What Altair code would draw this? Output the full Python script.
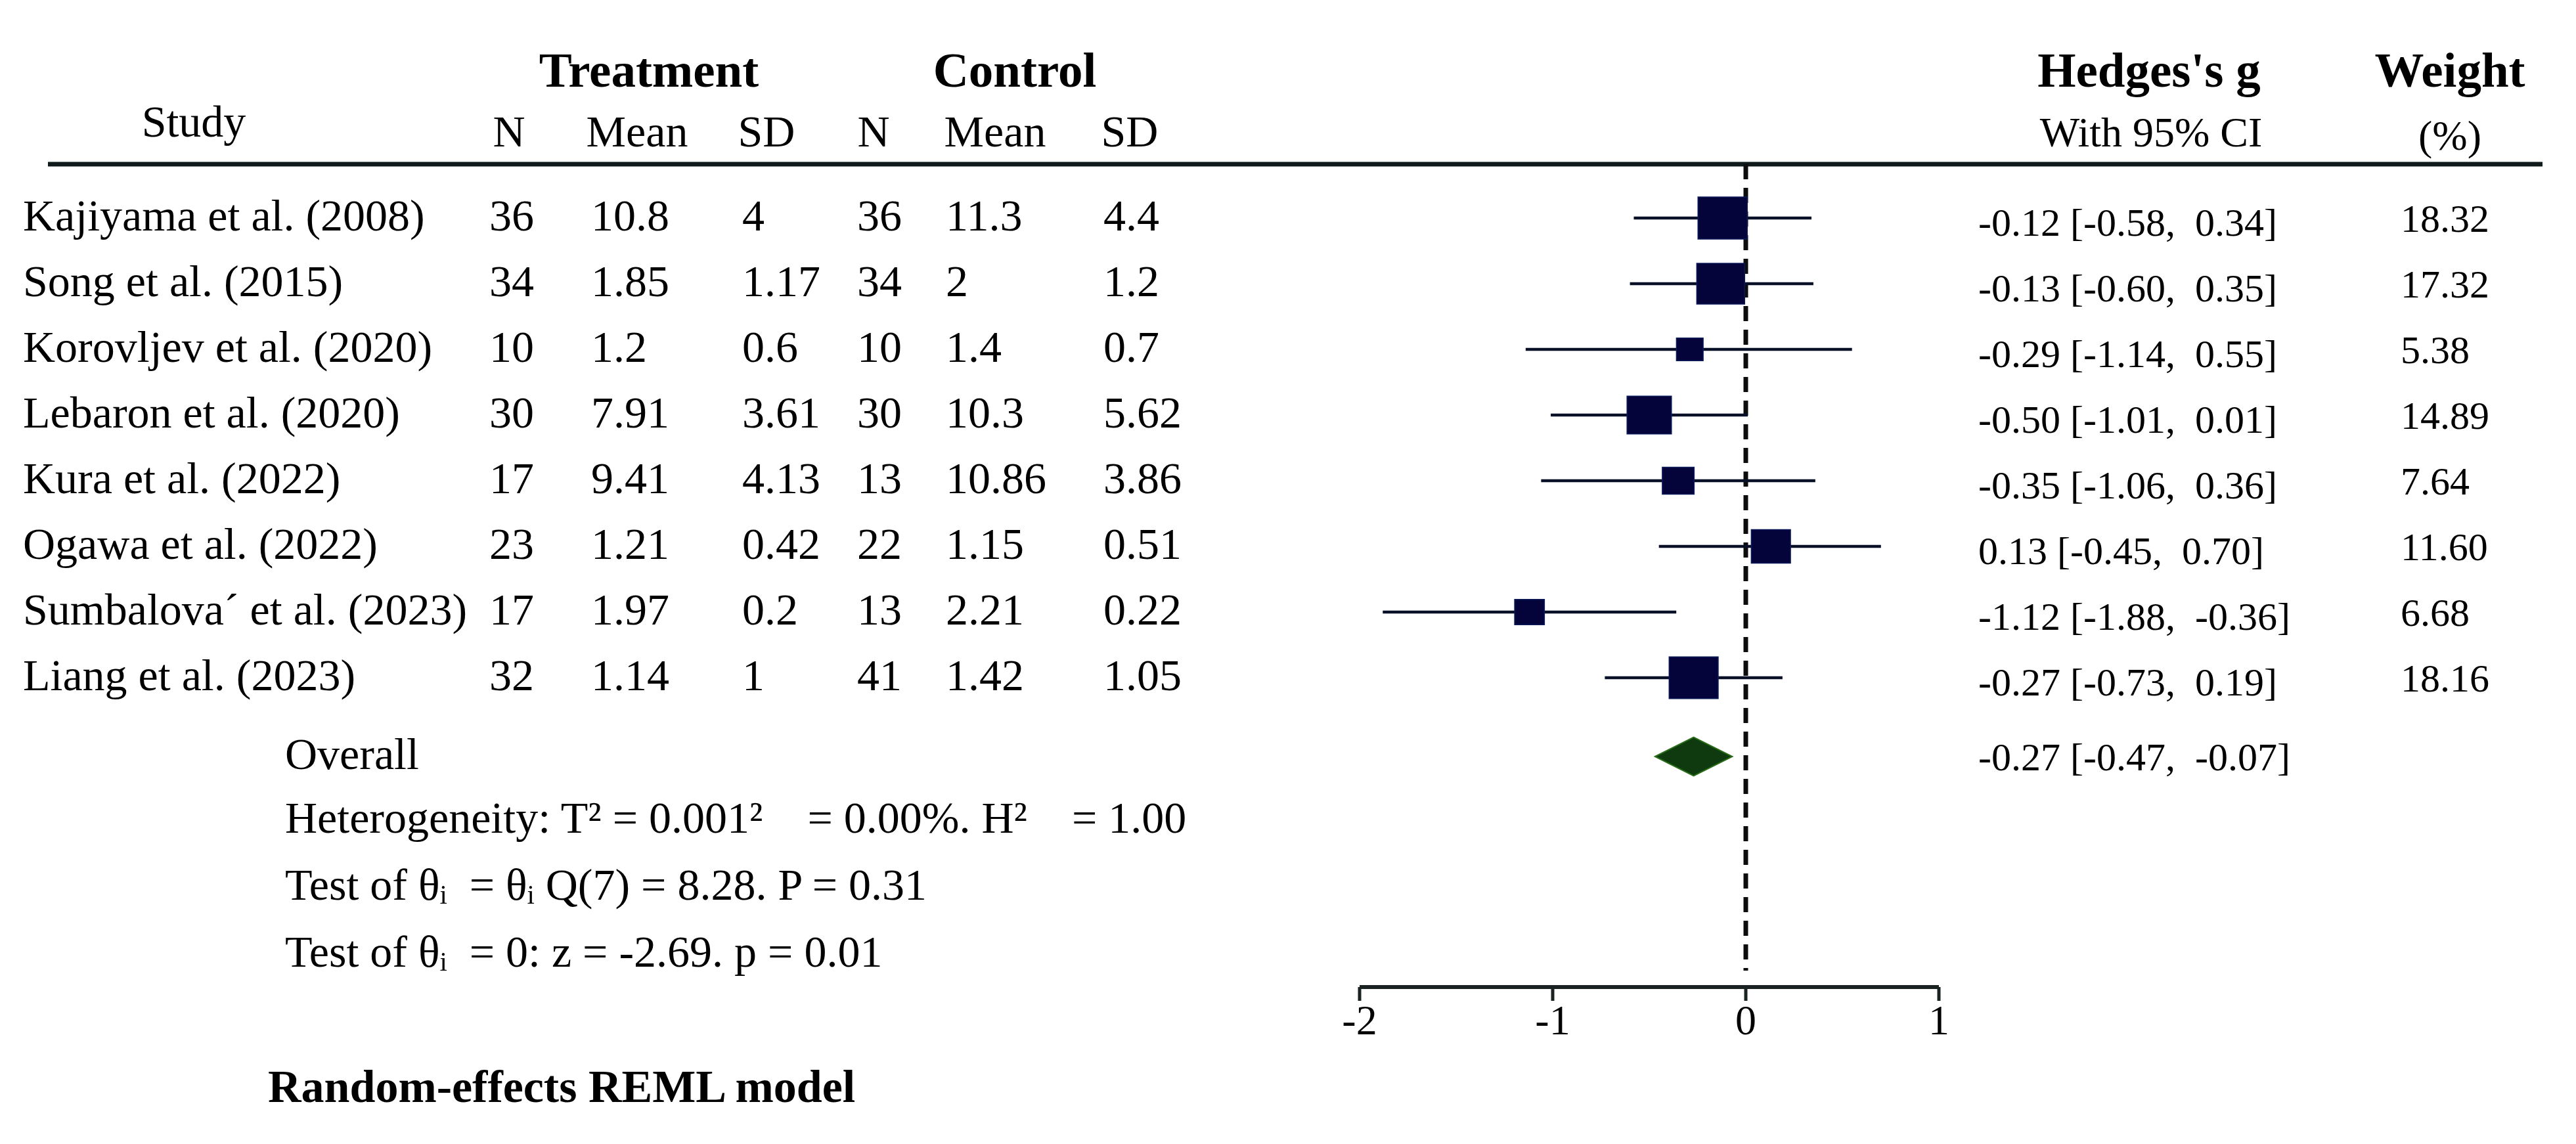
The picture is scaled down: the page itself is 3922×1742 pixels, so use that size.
import altair as alt
import pandas as pd

# ---------------- data ----------------
studies = ["Kajiyama et al. (2008)", "Song et al. (2015)", "Korovljev et al. (2020)",
           "Lebaron et al. (2020)", "Kura et al. (2022)", "Ogawa et al. (2022)",
           "Sumbalova\u00b4 et al. (2023)", "Liang et al. (2023)"]
n_treat = ["36", "34", "10", "30", "17", "23", "17", "32"]
mean_treat = ["10.8", "1.85", "1.2", "7.91", "9.41", "1.21", "1.97", "1.14"]
sd_treat = ["4", "1.17", "0.6", "3.61", "4.13", "0.42", "0.2", "1"]
n_ctrl = ["36", "34", "10", "30", "13", "22", "13", "41"]
mean_ctrl = ["11.3", "2", "1.4", "10.3", "10.86", "1.15", "2.21", "1.42"]
sd_ctrl = ["4.4", "1.2", "0.7", "5.62", "3.86", "0.51", "0.22", "1.05"]
hedges_g = [-0.12, -0.13, -0.29, -0.50, -0.35, 0.13, -1.12, -0.27]
ci_low = [-0.58, -0.60, -1.14, -1.01, -1.06, -0.45, -1.88, -0.73]
ci_high = [0.34, 0.35, 0.55, 0.01, 0.36, 0.70, -0.36, 0.19]
weights = [18.32, 17.32, 5.38, 14.89, 7.64, 11.60, 6.68, 18.16]
overall_g, overall_low, overall_high = -0.27, -0.47, -0.07
axis_ticks = [-2, -1, 0, 1]

heterogeneity = "Heterogeneity: T\u00b2 = 0.001\u00b2\u00a0\u00a0\u00a0\u00a0= 0.00%. H\u00b2\u00a0\u00a0\u00a0\u00a0= 1.00"
test1 = "Test of \u03b8\u1d62\u00a0\u00a0= \u03b8\u1d62 Q(7) = 8.28. P = 0.31"
test2 = "Test of \u03b8\u1d62\u00a0\u00a0= 0: z = -2.69. p = 0.01"
model = "Random-effects REML model"

# ---------------- layout ----------------
FONT = "Liberation Serif"
W, H = 3906, 1726
xs = alt.Scale(domain=[-9.0136, 4.2721], nice=False, zero=False)
ys = alt.Scale(domain=[-2.24, 15.02], nice=False, zero=False, reverse=True)

def fmt(v):
    return f"{v:.2f}"

df = pd.DataFrame({
    "study": studies, "nt": n_treat, "mt": mean_treat, "st": sd_treat,
    "nc": n_ctrl, "mc": mean_ctrl, "sc": sd_ctrl,
    "g": hedges_g, "lo": ci_low, "hi": ci_high, "w": weights,
})
df["row"] = range(1, len(studies) + 1)
df["ci_text"] = [f"{fmt(g)} [{fmt(l)},\u00a0\u00a0{fmt(h)}]" for g, l, h in zip(hedges_g, ci_low, ci_high)]
df["w_text"] = [fmt(w) for w in weights]


def col_text(field, xpx, dy, size=68):
    return alt.Chart(df).transform_calculate(ty=f"datum.row + {dy}").mark_text(
        align="left", baseline="alphabetic", font=FONT, fontSize=size, color="black"
    ).encode(x=alt.value(xpx), y=alt.Y("ty:Q", scale=ys, axis=None), text=f"{field}:N")


def label(txt, xpx, yrow, size=68, weight="normal", align="left"):
    return alt.Chart(df.head(1)).mark_text(
        text=txt, align=align, baseline="alphabetic", font=FONT, fontSize=size,
        fontWeight=weight, color="black"
    ).encode(x=alt.value(xpx), y=alt.YDatum(yrow, scale=ys, axis=None))


layers = []

# header
HB = 75
layers += [
    label("Treatment", 980, -1.0, HB, "bold", "center"),
    label("Control", 1537, -1.0, HB, "bold", "center"),
    label("Hedges's g", 3264, -1.0, HB, "bold", "center"),
    label("Weight", 3722, -1.0, HB, "bold", "center"),
    label("Study", 287, -0.24, 68, "normal", "center"),
    label("N", 767, -0.09, 68, "normal", "center"),
    label("Mean", 962, -0.09, 68, "normal", "center"),
    label("SD", 1159, -0.09, 68, "normal", "center"),
    label("N", 1322, -0.09, 68, "normal", "center"),
    label("Mean", 1507, -0.09, 68, "normal", "center"),
    label("SD", 1712, -0.09, 68, "normal", "center"),
    label("With 95% CI", 3267, -0.09, 64, "normal", "center"),
    label("(%)", 3722, -0.04, 64, "normal", "center"),
]

# thick header line
layers.append(
    alt.Chart(df.head(1)).mark_rule(color="#111a1a", strokeWidth=7).encode(
        x=alt.value(65), x2=alt.value(3863), y=alt.YDatum(0.18, scale=ys, axis=None))
)

# table columns
layers += [
    col_text("study", 27, 0.19),
    col_text("nt", 737, 0.19),
    col_text("mt", 892, 0.19),
    col_text("st", 1122, 0.19),
    col_text("nc", 1297, 0.19),
    col_text("mc", 1432, 0.19),
    col_text("sc", 1672, 0.19),
    col_text("ci_text", 3004, 0.27, 60),
    col_text("w_text", 3647, 0.21, 60),
]

# null line
layers.append(
    alt.Chart(pd.DataFrame({"x": [0]})).mark_rule(color="#0d0d0d", strokeWidth=7, strokeDash=[23, 13]).encode(
        x=alt.X("x:Q", scale=xs, axis=None),
        y=alt.YDatum(0.18, scale=ys, axis=None), y2=alt.Y2Datum(12.46))
)

# CI lines
layers.append(
    alt.Chart(df).mark_rule(color="#081028", strokeWidth=4.5).encode(
        x=alt.X("lo:Q", scale=xs, axis=None), x2="hi:Q", y=alt.Y("row:Q", scale=ys, axis=None))
)

# weighted squares
layers.append(
    alt.Chart(df).mark_point(
        shape="M-1.08,-0.92L1.08,-0.92L1.08,0.92L-1.08,0.92Z", filled=True, opacity=1,
        fill="#04043a", stroke="#0b1a5a", strokeWidth=1.5
    ).encode(
        x=alt.X("g:Q", scale=xs, axis=None), y=alt.Y("row:Q", scale=ys, axis=None),
        size=alt.Size("w:Q", scale=alt.Scale(type="linear", domain=[0, 20], range=[0, 263 * 20]), legend=None))
)

# overall diamond
OV = 9.2
HALF = 0.295
dia = pd.DataFrame({"x": [overall_low, overall_g, overall_high],
                    "y1": [OV, OV - HALF, OV], "y2": [OV, OV + HALF, OV]})
layers.append(
    alt.Chart(dia).mark_area(orient="vertical", fill="#0f3a0f", stroke="#2a6e1a", strokeWidth=2,
                             opacity=1, interpolate="linear").encode(
        x=alt.X("x:Q", scale=xs, axis=None), y=alt.Y("y1:Q", scale=ys, axis=None), y2="y2:Q")
)

overall_text = f"{fmt(overall_g)} [{fmt(overall_low)},\u00a0\u00a0{fmt(overall_high)}]"
layers += [
    label("Overall", 426, 9.39),
    label(overall_text, 3004, 9.41, 60),
    label(heterogeneity, 426, 10.36),
    label(test1, 426, 11.38),
    label(test2, 426, 12.40),
    label(model, 400, 14.46, 70, "bold"),
]

# x axis
tk = pd.DataFrame({"t": axis_ticks})
layers += [
    alt.Chart(tk).mark_rule(color="#1a2222", strokeWidth=6).encode(
        x=alt.XDatum(min(axis_ticks), scale=xs, axis=None), x2=alt.X2Datum(max(axis_ticks)),
        y=alt.YDatum(12.71, scale=ys, axis=None)),
    alt.Chart(tk).mark_rule(color="#1a2222", strokeWidth=5).encode(
        x=alt.X("t:Q", scale=xs, axis=None),
        y=alt.YDatum(12.71, scale=ys, axis=None), y2=alt.Y2Datum(12.92)),
    alt.Chart(tk).transform_calculate(lab="'' + datum.t").mark_text(
        align="center", baseline="alphabetic", font=FONT, fontSize=64, color="black").encode(
        x=alt.X("t:Q", scale=xs, axis=None), y=alt.YDatum(13.43, scale=ys, axis=None), text="lab:N"),
]

chart = alt.layer(*layers).properties(
    width=W, height=H, padding=0, background="white",
    autosize=alt.AutoSizeParams(type="none"),
).configure_view(stroke=None)

chart.save("out.html", embed_options={"renderer": "svg", "actions": False})
